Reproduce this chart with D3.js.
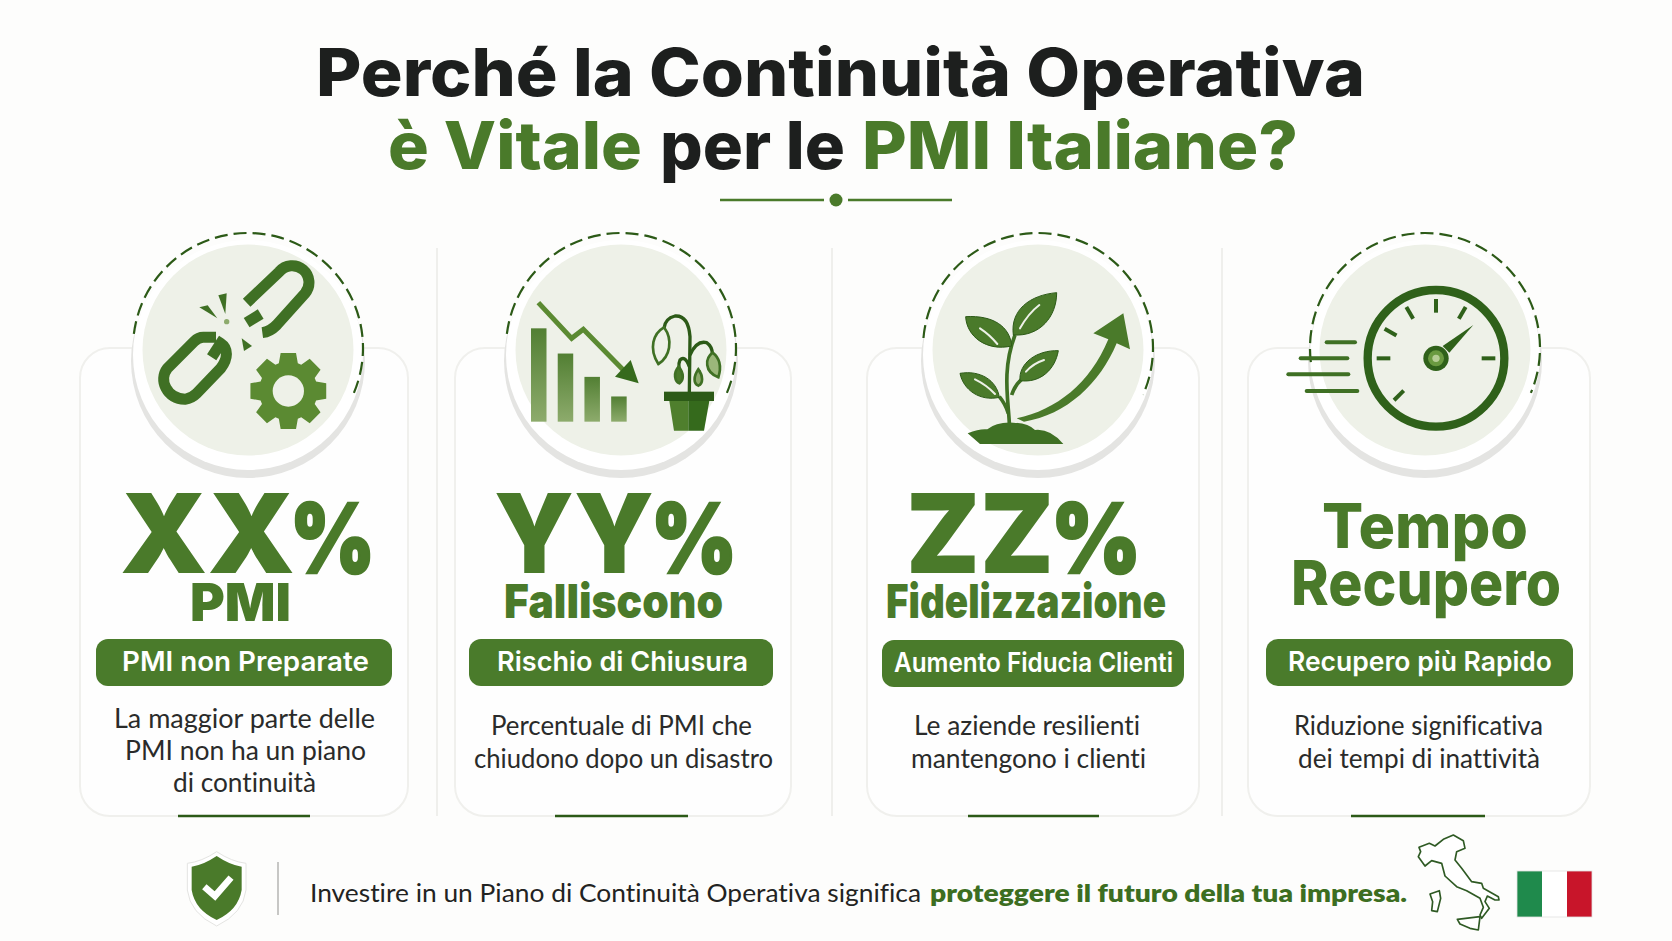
<!DOCTYPE html>
<html lang="it">
	<head>
		<meta charset="utf-8">
		<title>Perché la Continuità Operativa è Vitale per le PMI Italiane?</title>
		<script type="text/javascript" src="https://cdn.jsdelivr.net/npm/d3@7"></script>
		<style type="text/css">
			html, body { margin: 0; padding: 0; background: #fdfdfc; }
			svg { display: block; }
			text { font-variant-ligatures: none; }
		</style>
	</head>
	<body>
		<script type="text/javascript">

			//Texts and values
			var titleParts = ["Perché la Continuità Operativa", "è Vitale", "per le", "PMI Italiane?"];
			var cardHeads = [
				["XX", "%", "PMI"],
				["YY", "%", "Falliscono"],
				["ZZ", "%", "Fidelizzazione"],
				["Tempo", "Recupero"]
			];
			var pillLabels = ["PMI non Preparate", "Rischio di Chiusura", "Aumento Fiducia Clienti", "Recupero più Rapido"];
			var cardLines = [
				["La maggior parte delle", "PMI non ha un piano", "di continuità"],
				["Percentuale di PMI che", "chiudono dopo un disastro"],
				["Le aziende resilienti", "mantengono i clienti"],
				["Riduzione significativa", "dei tempi di inattività"]
			];
			var footerParts = ["Investire in un Piano di Continuità Operativa significa", "proteggere il futuro della tua impresa."];
			var fallingBars = [100, 73, 48, 27];	//bars in the second icon
			var gaugeTicks = [-180, -150, -120, -90, -60, 0, 135];	//degrees on the gauge

			//Layout
			var w = 1672;
			var h = 941;
			var green = "#4a7a2a";
			var dark = "#2c5a17";
			var ink = "#1d1f1e";

			var titleSlots = [
				{x: 316, w: 1049, y: 96, fill: ink},
				{x: 388, w: 254, y: 169, fill: green},
				{x: 660, w: 185, y: 169, fill: ink},
				{x: 862, w: 436, y: 169, fill: green}
			];
			var cardBoxes = [
				{x: 80, x2: 408, cx: 248, barX: 178, barX2: 310},
				{x: 455, x2: 791, cx: 621, barX: 555, barX2: 688},
				{x: 867, x2: 1199, cx: 1038, barX: 968, barX2: 1099},
				{x: 1248, x2: 1590, cx: 1425, barX: 1351, barX2: 1485}
			];
			var headSlots = [
				[{x: 120, w: 175, y: 573, s: 110}, {x: 290, w: 85, y: 573, s: 96}, {x: 190, w: 101, y: 621, s: 52}],
				[{x: 494, w: 160, y: 573, s: 110}, {x: 651, w: 86, y: 573, s: 96}, {x: 504, w: 219, y: 618, s: 47}],
				[{x: 906, w: 148, y: 573, s: 110}, {x: 1051, w: 90, y: 573, s: 96}, {x: 886, w: 280, y: 618, s: 47}],
				[{x: 1322, w: 206, y: 548, s: 62}, {x: 1291, w: 270, y: 605, s: 62}]
			];
			var pillSlots = [
				{x: 96, x2: 392, y: 639, tx: 122, tw: 247},
				{x: 469, x2: 773, y: 639, tx: 497, tw: 251},
				{x: 882, x2: 1184, y: 640, tx: 894, tw: 279},
				{x: 1266, x2: 1573, y: 639, tx: 1288, tw: 264}
			];
			var lineSlots = [
				[{x: 114, w: 261, y: 728}, {x: 125, w: 241, y: 760}, {x: 173, w: 143, y: 792}],
				[{x: 491, w: 261, y: 735}, {x: 474, w: 299, y: 768}],
				[{x: 914, w: 226, y: 735}, {x: 911, w: 235, y: 768}],
				[{x: 1294, w: 249, y: 735}, {x: 1298, w: 242, y: 768}]
			];
			var arcEnds = [[-83, 114], [-83, 114], [-85, 114], [-97, 113]];
			var separators = [437, 832, 1222];

			//Create SVG element
			var svg = d3.select("body")
						.append("svg")
						.attr("width", w)
						.attr("height", h);

			var defs = svg.append("defs");
			var barGrad = defs.append("linearGradient")
						.attr("id", "barGrad")
						.attr("x1", 0).attr("x2", 0).attr("y1", 0).attr("y2", 1);
			barGrad.append("stop").attr("offset", "0%").attr("stop-color", "#527f33");
			barGrad.append("stop").attr("offset", "100%").attr("stop-color", "#8dab6c");

			svg.append("rect")
				.attr("width", w)
				.attr("height", h)
				.attr("fill", "#fdfdfc");

			//Text squeezed to the width measured on the reference
			function label(parent, str, x, width, y, size, weight, fill, family) {
				return parent.append("text")
					.text(str)
					.attr("x", x)
					.attr("y", y)
					.attr("textLength", width)
					.attr("lengthAdjust", "spacingAndGlyphs")
					.attr("font-family", family || "Inter")
					.attr("font-size", size)
					.attr("font-weight", weight)
					.attr("fill", fill);
			}

			//Title
			titleParts.forEach(function(t, i) {
				var s = titleSlots[i];
				label(svg, t, s.x, s.w, s.y, 66, 800, s.fill);
			});

			//Divider under the title
			[[720, 824], [848, 952]].forEach(function(d) {
				svg.append("line")
					.attr("x1", d[0]).attr("x2", d[1])
					.attr("y1", 200).attr("y2", 200)
					.attr("stroke", green)
					.attr("stroke-width", 2.5);
			});
			svg.append("circle").attr("cx", 836).attr("cy", 200).attr("r", 6.5).attr("fill", green);

			//Column separators
			svg.selectAll("line.sep")
				.data(separators)
				.enter()
				.append("line")
				.attr("class", "sep")
				.attr("x1", function(d) { return d; })
				.attr("x2", function(d) { return d; })
				.attr("y1", 248)
				.attr("y2", 816)
				.attr("stroke", "#efefec")
				.attr("stroke-width", 2);

			//Cards
			var cy = 350;

			var cards = svg.selectAll("g.card")
				.data(cardBoxes)
				.enter()
				.append("g")
				.attr("class", "card");

			cards.append("rect")
				.attr("x", function(d) { return d.x; })
				.attr("y", 348)
				.attr("width", function(d) { return d.x2 - d.x; })
				.attr("height", 468)
				.attr("rx", 30)
				.attr("fill", "#fefefe")
				.attr("stroke", "#f0f0ed")
				.attr("stroke-width", 2);

			//Accent under each card
			cards.append("line")
				.attr("x1", function(d) { return d.barX; })
				.attr("x2", function(d) { return d.barX2; })
				.attr("y1", 816)
				.attr("y2", 816)
				.attr("stroke", dark)
				.attr("stroke-width", 2.5);

			//Medallions
			cards.append("circle")
				.attr("cx", function(d) { return d.cx; })
				.attr("cy", cy + 11)
				.attr("r", 117)
				.attr("fill", "#e4e4e2");
			cards.append("circle")
				.attr("cx", function(d) { return d.cx; })
				.attr("cy", cy + 5)
				.attr("r", 115)
				.attr("fill", "#ffffff");
			cards.append("circle")
				.attr("cx", function(d) { return d.cx; })
				.attr("cy", cy)
				.attr("r", 105.5)
				.attr("fill", "#eef1e8");
			cards.append("path")
				.attr("transform", function(d) { return "translate(" + d.cx + "," + (cy - 2) + ")"; })
				.attr("d", function(d, i) {
					// d3.path angles start at 3 o'clock, the ends are stored from 12 o'clock
					var p = d3.path();
					p.arc(0, 0, 115, (arcEnds[i][0] - 90) * Math.PI / 180, (arcEnds[i][1] - 90) * Math.PI / 180);
					return p.toString();
				})
				.attr("fill", "none")
				.attr("stroke", dark)
				.attr("stroke-width", 2.2)
				.attr("stroke-dasharray", "13 6");

			//Headlines
			cardHeads.forEach(function(heads, i) {
				heads.forEach(function(t, j) {
					var s = headSlots[i][j];
					var txt = label(svg, t, s.x, s.w, s.y, s.s, i == 3 ? 800 : 900, green);
					if (t == "%") {
						txt.attr("stroke", green).attr("stroke-width", 2.5);
					}
				});
			});

			//Pills
			pillLabels.forEach(function(t, i) {
				var s = pillSlots[i];
				svg.append("rect")
					.attr("x", s.x)
					.attr("y", s.y)
					.attr("width", s.x2 - s.x)
					.attr("height", 47)
					.attr("rx", 12)
					.attr("fill", "#4a7b2b");
				label(svg, t, s.tx, s.tw, s.y + 32, 27, 600, "#ffffff");
			});

			//Descriptions
			cardLines.forEach(function(lines, i) {
				lines.forEach(function(t, j) {
					var s = lineSlots[i][j];
					label(svg, t, s.x, s.w, s.y, 26, 400, "#2a2b2a", "Lato");
				});
			});

			//Icon artwork is traced in 3x crop units, so each group scales by a third
			function iconGroup(x, y) {
				return svg.append("g").attr("transform", "translate(" + x + "," + y + ") scale(" + (1 / 3) + ")");
			}

			//Icon 1: broken chain and gear
			var chain = iconGroup(70, 220);
			["M530,248 L628,155 A46,46 0 0 1 705,220 L620,315 Q600,335 577,338",
			 "M530,308 L572,282",
			 "M438,352 L400,352 Q385,352 372,365 L292,445 C265,480 290,535 345,538 Q365,535 380,520 L452,445 C475,415 475,385 452,370 L425,412"]
				.forEach(function(d) {
					chain.append("path")
						.attr("d", d)
						.attr("fill", "none")
						.attr("stroke", "#3f7024")
						.attr("stroke-width", 33)
						.attr("stroke-linecap", "butt");
				});
			["M388,262 L413,256 L442,295 Z", "M445,226 L470,220 L466,282 Z", "M515,355 L546,378 L522,393 Z"]
				.forEach(function(d) {
					chain.append("path").attr("d", d).attr("fill", "#3f7024");
				});
			chain.append("circle").attr("cx", 470).attr("cy", 305).attr("r", 8).attr("fill", "#8dab6c");

			var gearPoints = [];
			d3.range(8).forEach(function(i) {
				var a = i * Math.PI / 4;
				gearPoints.push([a - 0.33, 88], [a - 0.2, 116], [a + 0.2, 116], [a + 0.33, 88]);
			});
			chain.append("path")
				.attr("transform", "translate(655,513)")
				.attr("d", d3.lineRadial().curve(d3.curveLinearClosed)(gearPoints))
				.attr("fill", "#5b8a32");
			chain.append("circle").attr("cx", 655).attr("cy", 513).attr("r", 47).attr("fill", "#eef1e8");

			//Icon 2: falling bars and wilted plant
			var fall = iconGroup(480, 220);
			var barX = d3.scaleBand()
						.domain(d3.range(fallingBars.length))
						.range([153, 440])
						.paddingInner(0.42);
			var barY = d3.scaleLinear()
						.domain([0, 100])
						.range([605, 325]);
			fall.selectAll("rect.bar")
				.data(fallingBars)
				.enter()
				.append("rect")
				.attr("class", "bar")
				.attr("x", function(d, i) { return barX(i); })
				.attr("y", function(d) { return barY(d); })
				.attr("width", barX.bandwidth())
				.attr("height", function(d) { return barY(0) - barY(d); })
				.attr("fill", "url(#barGrad)");
			fall.append("path")
				.attr("d", "M175,248 L275,355 L310,328 L435,455")
				.attr("fill", "none")
				.attr("stroke", "#5b8a32")
				.attr("stroke-width", 15);
			fall.append("path").attr("d", "M452,420 L476,490 L405,470 Z").attr("fill", "#356a1c");
			//plant
			["M628,518 L630,350 Q625,285 585,288 Q555,295 552,325",
			 "M630,405 Q650,360 680,368 Q697,380 697,402",
			 "M628,440 Q615,405 600,420 Q595,430 597,445",
			 "M652,480 L657,450"]
				.forEach(function(d) {
					fall.append("path")
						.attr("d", d)
						.attr("fill", "none")
						.attr("stroke", dark)
						.attr("stroke-width", 10);
				});
			[["M552,322 C520,340 505,385 535,432 C570,410 580,360 552,322 Z", "#eef1e8"],
			 ["M698,398 C675,415 672,455 715,472 C725,440 720,415 698,398 Z", "#9bb77a"],
			 ["M596,440 C578,460 585,485 598,490 C612,480 612,460 596,440 Z", "#4a7a2a"],
			 ["M655,448 C640,470 640,490 655,497 C670,490 670,468 655,448 Z", "#8dab6c"]]
				.forEach(function(d) {
					fall.append("path")
						.attr("d", d[0])
						.attr("fill", d[1])
						.attr("stroke", "#3f7024")
						.attr("stroke-width", 8);
				});
			fall.append("rect").attr("x", 552).attr("y", 515).attr("width", 150).attr("height", 28).attr("fill", dark);
			fall.append("path").attr("d", "M568,543 L625,543 L625,632 L582,632 Z").attr("fill", "#4f7f2d");
			fall.append("path").attr("d", "M625,543 L688,543 L672,632 L625,632 Z").attr("fill", "#356a1c");

			//Icon 3: growing plant and arrow
			var grow = iconGroup(900, 220);
			["M328,610 C325,540 305,450 345,345", "M335,525 Q345,495 365,478", "M325,580 Q315,550 298,530"]
				.forEach(function(d) {
					grow.append("path")
						.attr("d", d)
						.attr("fill", "none")
						.attr("stroke", "#3f7024")
						.attr("stroke-width", 11);
				});
			["M340,345 C330,270 390,225 470,218 C470,290 420,350 340,345 Z",
			 "M335,378 C330,320 280,285 197,290 C200,350 260,395 335,378 Z",
			 "M360,482 C355,430 410,390 475,392 C465,450 420,490 360,482 Z",
			 "M298,532 C290,480 240,450 180,460 C190,510 240,545 298,532 Z"]
				.forEach(function(d) {
					grow.append("path").attr("d", d).attr("fill", "#4a7a2a").attr("stroke", "#2c5a17").attr("stroke-width", 3);
				});
			["M360,325 Q385,280 418,255", "M240,325 Q270,345 292,372", "M378,455 Q400,430 432,420", "M225,478 Q260,495 285,522"]
				.forEach(function(d) {
					grow.append("path").attr("d", d).attr("fill", "none").attr("stroke", "#eef1e8").attr("stroke-width", 6).attr("stroke-linecap", "round");
				});
			grow.append("path")
				.attr("d", "M203,640 Q240,625 262,628 Q290,605 340,608 Q385,610 405,630 Q450,625 490,672 L240,672 Z")
				.attr("fill", "#3f7024");
			grow.append("path")
				.attr("d", "M350,595 C470,570 570,490 625,358 L580,340 L670,280 L690,388 L650,370 C600,490 500,585 372,605 Z")
				.attr("fill", "#4a7a2a");

			//Icon 4: gauge with speed lines
			var gauge = iconGroup(1270, 220);
			gauge.append("circle")
				.attr("cx", 498).attr("cy", 415).attr("r", 205)
				.attr("fill", "none")
				.attr("stroke", "#2f611a")
				.attr("stroke-width", 25);
			gauge.selectAll("line.tick")
				.data(gaugeTicks)
				.enter()
				.append("line")
				.attr("class", "tick")
				.attr("x1", function(d) { return 498 + 137 * Math.cos(d * Math.PI / 180); })
				.attr("y1", function(d) { return 415 + 137 * Math.sin(d * Math.PI / 180); })
				.attr("x2", function(d) { return 498 + 178 * Math.cos(d * Math.PI / 180); })
				.attr("y2", function(d) { return 415 + 178 * Math.sin(d * Math.PI / 180); })
				.attr("stroke", "#2f611a")
				.attr("stroke-width", 12);
			gauge.append("path").attr("d", "M610,315 L538,398 L518,378 Z").attr("fill", "#2f611a");
			gauge.append("circle").attr("cx", 498).attr("cy", 415).attr("r", 38).attr("fill", "#2f611a");
			gauge.append("circle").attr("cx", 498).attr("cy", 415).attr("r", 24).attr("fill", "#6a9a40");
			gauge.append("circle").attr("cx", 498).attr("cy", 415).attr("r", 11).attr("fill", "#b5cd94");
			[[170, 255, 367], [92, 232, 415], [55, 235, 463], [110, 262, 513]].forEach(function(d) {
				gauge.append("line")
					.attr("x1", d[0]).attr("x2", d[1])
					.attr("y1", d[2]).attr("y2", d[2])
					.attr("stroke", "#3f7024")
					.attr("stroke-width", 12)
					.attr("stroke-linecap", "round");
			});

			//Footer: shield and rule
			var shield = iconGroup(170, 840);
			shield.append("path")
				.attr("d", "M140,35 Q185,65 228,70 L228,150 Q220,220 140,258 Q60,220 52,150 L52,70 Q95,65 140,35 Z")
				.attr("fill", "#ffffff")
				.attr("stroke", "#e4e4e2")
				.attr("stroke-width", 3);
			shield.append("path")
				.attr("d", "M140,48 Q180,75 215,80 L215,150 Q205,210 140,240 Q75,210 65,150 L65,80 Q100,75 140,48 Z")
				.attr("fill", "#4a7a2a");
			shield.append("path")
				.attr("d", "M103,140 L135,168 L183,113")
				.attr("fill", "none")
				.attr("stroke", "#ffffff")
				.attr("stroke-width", 20);
			svg.append("line")
				.attr("x1", 278).attr("x2", 278)
				.attr("y1", 862).attr("y2", 915)
				.attr("stroke", "#b5b5b3")
				.attr("stroke-width", 1.5);

			//Footer sentence
			label(svg, footerParts[0], 310, 611, 902, 25, 400, "#222322", "Lato");
			label(svg, footerParts[1], 930, 477, 902, 25, 800, "#3c6e21", "Lato");

			//Italy outline
			var italy = iconGroup(1400, 820);
			var outline = d3.line().curve(d3.curveLinearClosed);
			[
				[[57,82],[88,70],[105,78],[130,58],[160,45],[190,62],[195,85],[170,95],[165,120],[185,145],[215,185],[245,190],[250,205],[295,230],[297,240],[285,240],[262,228],[255,245],[268,265],[245,295],[240,285],[250,262],[240,235],[200,212],[170,200],[135,168],[125,130],[95,122],[75,138],[55,110],[62,95]],
				[[90,222],[118,212],[122,235],[112,275],[95,272],[98,245]],
				[[172,298],[240,290],[235,330],[210,325],[180,312]]
			].forEach(function(d) {
				italy.append("path")
					.attr("d", outline(d))
					.attr("fill", "#ffffff")
					.attr("stroke", "#2f5a24")
					.attr("stroke-width", 5)
					.attr("stroke-linejoin", "round");
			});

			//Flag
			["#1f8a4c", "#ffffff", "#c8152a"].forEach(function(c, i) {
				svg.append("rect")
					.attr("x", 1517 + i * 25)
					.attr("y", 871)
					.attr("width", 25)
					.attr("height", 46)
					.attr("fill", c);
			});
			svg.append("rect")
				.attr("x", 1517).attr("y", 871).attr("width", 75).attr("height", 46)
				.attr("fill", "none")
				.attr("stroke", "#e2e2e0")
				.attr("stroke-width", 0.8);

		</script>
	</body>
</html>
